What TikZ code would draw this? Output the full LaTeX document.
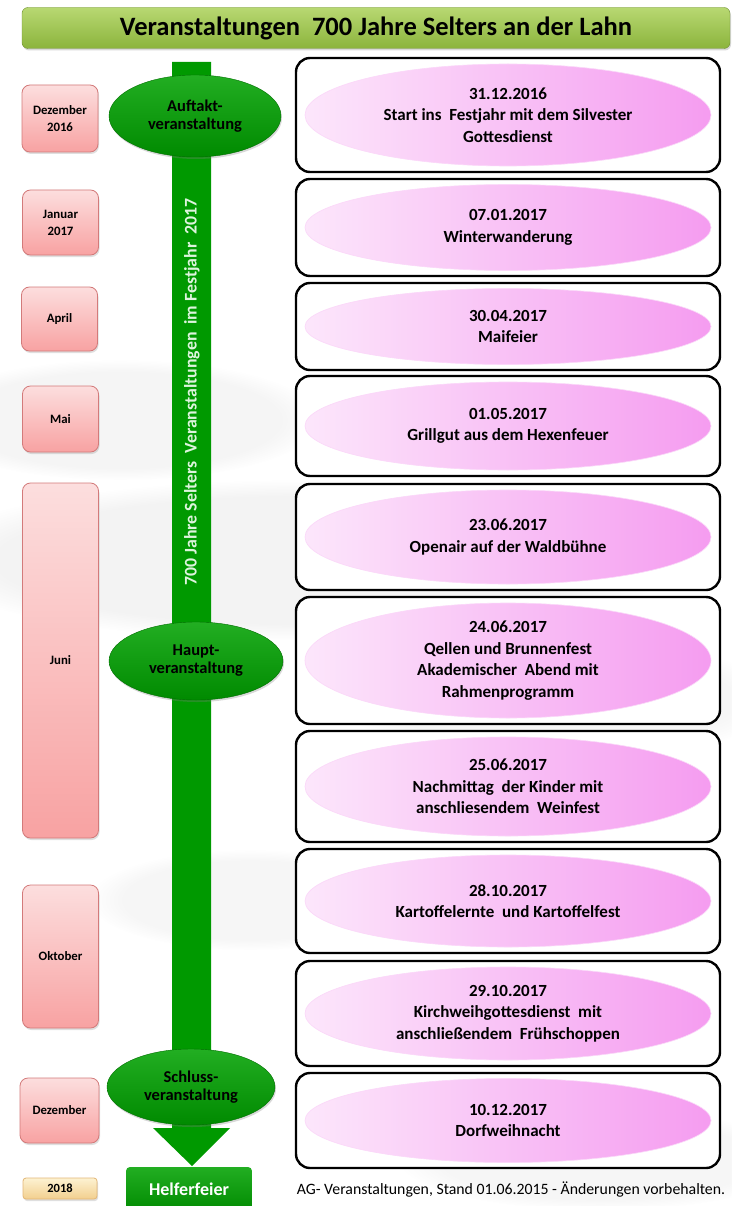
\documentclass[tikz,border=0pt]{standalone}
\usepackage{fontspec}
\setmainfont{Carlito}
\usetikzlibrary{shapes.geometric,fadings,shadows}
\definecolor{titleTop}{HTML}{B8D872}
\definecolor{titleBot}{HTML}{8BB43C}
\definecolor{barGreen}{HTML}{009900}
\definecolor{ellTop}{HTML}{22AE22}
\definecolor{ellBot}{HTML}{008A00}
\definecolor{pinkL}{HTML}{FCE6FB}
\definecolor{pinkR}{HTML}{F59CF0}
\definecolor{monTop}{HTML}{FCDEDE}
\definecolor{monBot}{HTML}{F8A2A2}
\definecolor{monLine}{HTML}{D37A7A}
\definecolor{yrTop}{HTML}{FDF2D2}
\definecolor{yrBot}{HTML}{F2CF8E}
\definecolor{vtext}{HTML}{DDF4DD}
\begin{document}
\begin{tikzpicture}[x=1pt,y=-1pt,
  evbox/.style={draw=black, line width=2.4pt, rounded corners=14pt, fill=white, inner sep=0pt, minimum width=424},
  evell/.style={ellipse, inner sep=0pt, minimum width=406, left color=pinkL, right color=pinkR, draw=pinkR!40!white, line width=0.6pt, align=center, font=\fontsize{17}{21.5}\selectfont\bfseries},
  month/.style={draw=monLine, line width=0.8pt, rounded corners=8pt, top color=monTop, bottom color=monBot, minimum width=76, inner sep=0pt, align=center, font=\fontsize{12.8}{17}\selectfont\bfseries, drop shadow={opacity=0.25, shadow xshift=1pt, shadow yshift=-2pt}},
  gell/.style={ellipse, inner sep=0pt, top color=ellTop, bottom color=ellBot, draw=ellBot!80!black, line width=0.4pt, align=center, font=\fontsize{16.5}{18}\selectfont\bfseries, drop shadow={opacity=0.3, shadow xshift=1pt, shadow yshift=-2pt}}
]
\useasboundingbox (0,0) rectangle (731,1206);
\fill[white] (0,0) rectangle (731,1206);
% faint background clouds
\begin{scope}[opacity=0.25]
\fill[gray!35, path fading=circle with fuzzy edge 20 percent] (300,560) ellipse (380 and 80);
\fill[gray!30, path fading=circle with fuzzy edge 20 percent] (120,420) ellipse (200 and 60);
\fill[gray!25, path fading=circle with fuzzy edge 20 percent] (560,700) ellipse (220 and 60);
\fill[gray!25, path fading=circle with fuzzy edge 20 percent] (250,900) ellipse (160 and 50);
\fill[gray!25, path fading=circle with fuzzy edge 20 percent] (600,1160) ellipse (200 and 50);
\end{scope}

% title
\node[draw=titleBot!80!black, line width=0.4pt, rounded corners=6pt, top color=titleTop, bottom color=titleBot, minimum width=708, minimum height=41, inner sep=0pt, font=\fontsize{26.5}{30}\selectfont\bfseries, drop shadow={opacity=0.3, shadow xshift=1pt, shadow yshift=-2pt}] (title) at (376,28) {Veranstaltungen\ \ 700 Jahre Selters an der Lahn};

% green bar with arrow
\fill[barGreen] (172,62) -- (211,62) -- (211,1128) -- (230,1128) -- (192,1166) -- (153,1128) -- (172,1128) -- cycle;
\node[rotate=90, text=vtext, font=\fontsize{17.8}{19}\selectfont\bfseries] (vt) at (192,392) {700 Jahre Selters\ \ Veranstaltungen\ \ im Festjahr\ \ 2017};

% green ellipses
\node[gell, minimum width=172, minimum height=82] (auf) at (195,116) {Auftakt-\\veranstaltung};
\node[gell, minimum width=174, minimum height=78] (haupt) at (196,661) {Haupt-\\veranstaltung};
\node[gell, minimum width=168, minimum height=76] (schluss) at (191,1087) {Schluss-\\veranstaltung};

% Helferfeier
\node[top color=ellTop, bottom color=ellBot, rounded corners=4pt, minimum width=126, minimum height=46, inner sep=0pt] (helfer) at (189,1190) {};
\node[text=white, font=\fontsize{18}{20}\selectfont\bfseries] (helfert) at (189,1189) {Helferfeier};

% month boxes
\node[month, minimum height=67] (m1) at (60,118.5) {Dezember\\2016};
\node[month, minimum height=65] (m2) at (60.5,222.5) {Januar\\2017};
\node[month, minimum height=64] (m3) at (59.5,319) {April};
\node[month, minimum height=66] (m4) at (60.5,419) {Mai};
\node[month, minimum height=355] (m5) at (60.5,660.5) {Juni};
\node[month, minimum height=143] (m6) at (60.5,956.5) {Oktober};
\node[month, minimum height=65, minimum width=79] (m7) at (59.5,1110.5) {Dezember};
\node[month, minimum height=21, minimum width=74, rounded corners=3pt, top color=yrTop, bottom color=yrBot, draw=yrBot!70!brown, font=\fontsize{12.5}{14}\selectfont\bfseries] (m8) at (60,1188.5) {2018};

% event boxes
\node[evbox, minimum height=114] (b1) at (508,115) {};
\node[evell, minimum height=102] (e1) at (508,115) {31.12.2016\\Start ins\ \ Festjahr mit dem Silvester\\Gottesdienst};
\node[evbox, minimum height=97] (b2) at (508,227.5) {};
\node[evell, minimum height=86] (e2) at (508,227.5) {07.01.2017\\Winterwanderung};
\node[evbox, minimum height=87] (b3) at (508,326.5) {};
\node[evell, minimum height=76] (e3) at (508,326.5) {30.04.2017\\Maifeier};
\node[evbox, minimum height=100] (b4) at (508,426) {};
\node[evell, minimum height=88] (e4) at (508,426) {01.05.2017\\Grillgut aus dem Hexenfeuer};
\node[evbox, minimum height=106] (b5) at (508,537) {};
\node[evell, minimum height=94] (e5) at (508,537) {23.06.2017\\Openair auf der Waldbühne};
\node[evbox, minimum height=127] (b6) at (508,660.5) {};
\node[evell, minimum height=115] (e6) at (508,660.5) {24.06.2017\\Qellen und Brunnenfest\\Akademischer\ \ Abend mit\\Rahmenprogramm};
\node[evbox, minimum height=111] (b7) at (508,786.5) {};
\node[evell, minimum height=99] (e7) at (508,786.5) {25.06.2017\\Nachmittag\ \ der Kinder mit\\anschliesendem\ \ Weinfest};
\node[evbox, minimum height=104] (b8) at (508,901) {};
\node[evell, minimum height=92] (e8) at (508,901) {28.10.2017\\Kartoffelernte\ \ und Kartoffelfest};
\node[evbox, minimum height=105] (b9) at (508,1013.5) {};
\node[evell, minimum height=93] (e9) at (508,1013.5) {29.10.2017\\Kirchweihgottesdienst\ \ mit\\anschließendem\ \ Frühschoppen};
\node[evbox, minimum height=95] (b10) at (508,1120.5) {};
\node[evell, minimum height=84] (e10) at (508,1120.5) {10.12.2017\\Dorfweihnacht};

% footer
\node[font=\fontsize{15.8}{18}\selectfont, inner sep=0pt] (foot) at (511,1190) {AG- Veranstaltungen, Stand 01.06.2015 - Änderungen vorbehalten.};
\end{tikzpicture}
\end{document}
